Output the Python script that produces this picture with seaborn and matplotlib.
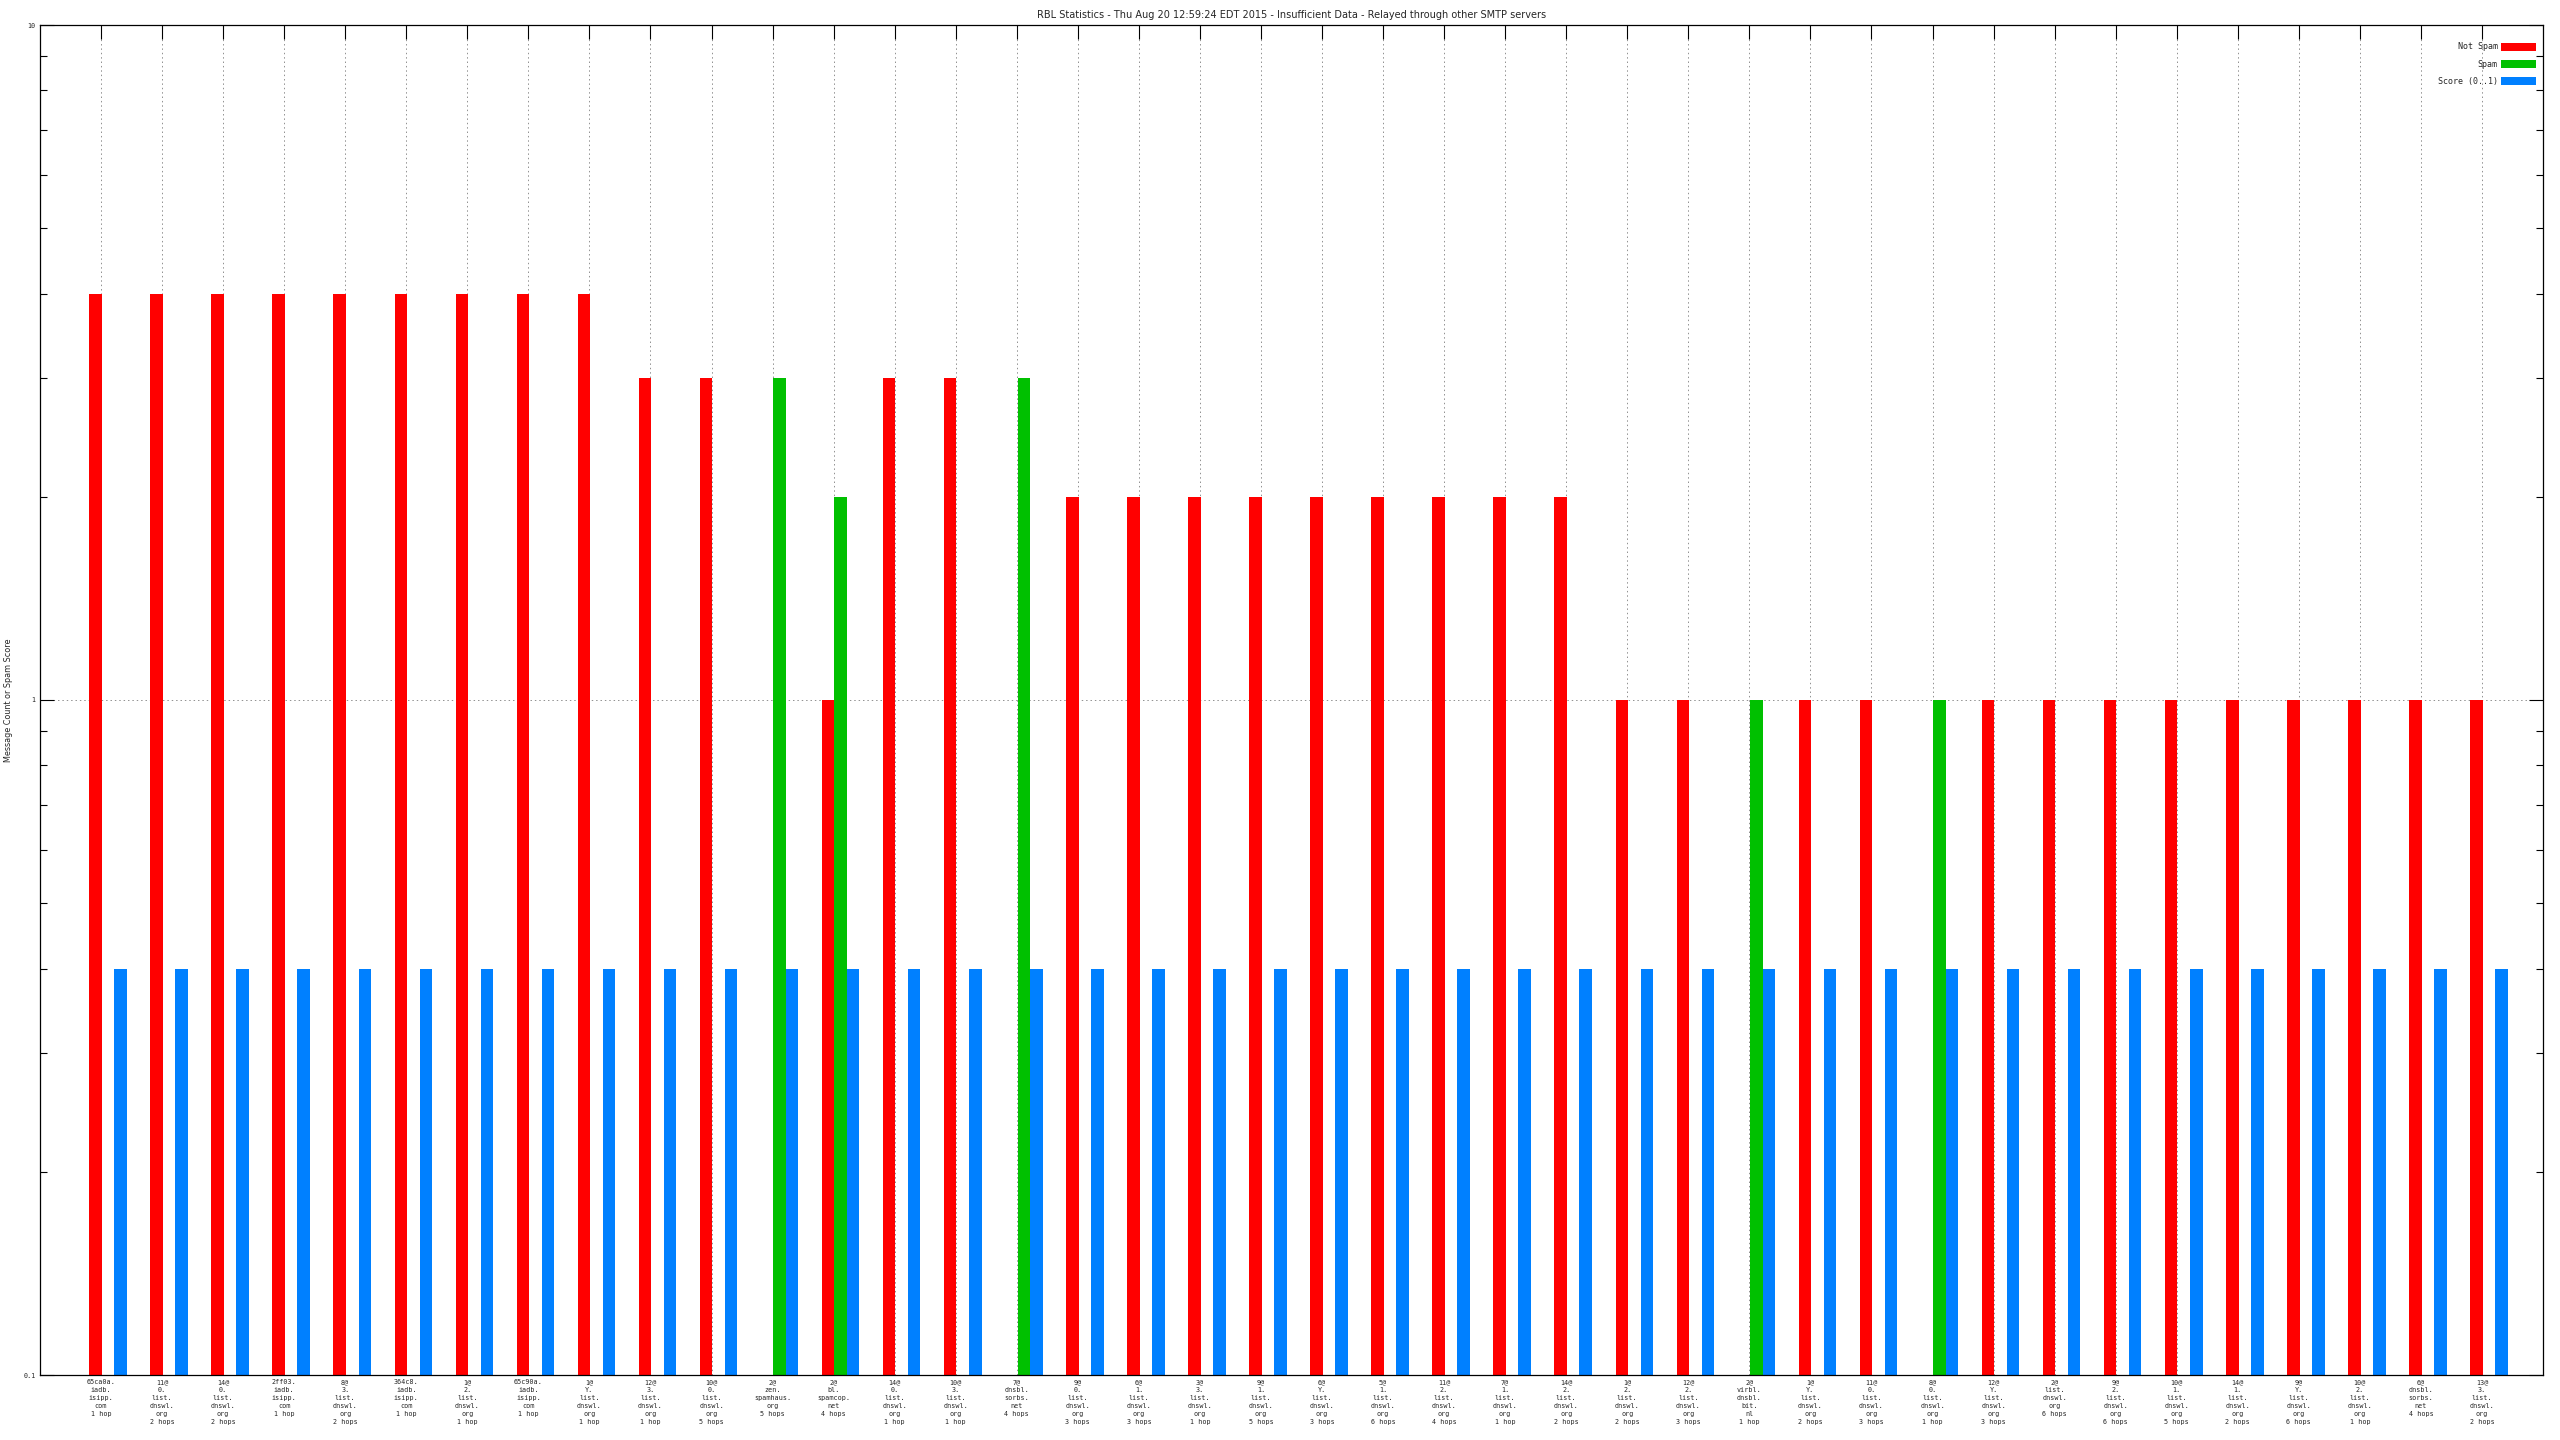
import pandas as pd
import matplotlib
matplotlib.use('Agg')
import matplotlib.pyplot as plt
import seaborn as sns
from matplotlib.ticker import FixedLocator, NullFormatter, LogLocator

# categorias (eje x)
labels = [
    "65ca0a.\niadb.\nisipp.\ncom\n1 hop",
    "11@\n0.\nlist.\ndnswl.\norg\n2 hops",
    "14@\n0.\nlist.\ndnswl.\norg\n2 hops",
    "2ff03.\niadb.\nisipp.\ncom\n1 hop",
    "8@\n3.\nlist.\ndnswl.\norg\n2 hops",
    "364c8.\niadb.\nisipp.\ncom\n1 hop",
    "1@\n2.\nlist.\ndnswl.\norg\n1 hop",
    "65c90a.\niadb.\nisipp.\ncom\n1 hop",
    "1@\nY.\nlist.\ndnswl.\norg\n1 hop",
    "12@\n3.\nlist.\ndnswl.\norg\n1 hop",
    "10@\n0.\nlist.\ndnswl.\norg\n5 hops",
    "2@\nzen.\nspamhaus.\norg\n5 hops",
    "2@\nbl.\nspamcop.\nnet\n4 hops",
    "14@\n0.\nlist.\ndnswl.\norg\n1 hop",
    "10@\n3.\nlist.\ndnswl.\norg\n1 hop",
    "7@\ndnsbl.\nsorbs.\nnet\n4 hops",
    "9@\n0.\nlist.\ndnswl.\norg\n3 hops",
    "6@\n1.\nlist.\ndnswl.\norg\n3 hops",
    "3@\n3.\nlist.\ndnswl.\norg\n1 hop",
    "9@\n1.\nlist.\ndnswl.\norg\n5 hops",
    "6@\nY.\nlist.\ndnswl.\norg\n3 hops",
    "5@\n1.\nlist.\ndnswl.\norg\n6 hops",
    "11@\n2.\nlist.\ndnswl.\norg\n4 hops",
    "7@\n1.\nlist.\ndnswl.\norg\n1 hop",
    "14@\n2.\nlist.\ndnswl.\norg\n2 hops",
    "1@\n2.\nlist.\ndnswl.\norg\n2 hops",
    "12@\n2.\nlist.\ndnswl.\norg\n3 hops",
    "2@\nvirbl.\ndnsbl.\nbit.\nnl\n1 hop",
    "1@\nY.\nlist.\ndnswl.\norg\n2 hops",
    "11@\n0.\nlist.\ndnswl.\norg\n3 hops",
    "8@\n0.\nlist.\ndnswl.\norg\n1 hop",
    "12@\nY.\nlist.\ndnswl.\norg\n3 hops",
    "2@\nlist.\ndnswl.\norg\n6 hops",
    "9@\n2.\nlist.\ndnswl.\norg\n6 hops",
    "10@\n1.\nlist.\ndnswl.\norg\n5 hops",
    "14@\n1.\nlist.\ndnswl.\norg\n2 hops",
    "9@\nY.\nlist.\ndnswl.\norg\n6 hops",
    "10@\n2.\nlist.\ndnswl.\norg\n1 hop",
    "6@\ndnsbl.\nsorbs.\nnet\n4 hops",
    "13@\n3.\nlist.\ndnswl.\norg\n2 hops",
]

not_spam = [4, 4, 4, 4, 4, 4, 4, 4, 4, 3, 3, None, 1, 3, 3, None, 2, 2, 2, 2,
            2, 2, 2, 2, 2, 1, 1, None, 1, 1, None, 1, 1, 1, 1, 1, 1, 1, 1, 1]
spam = [None, None, None, None, None, None, None, None, None, None, None, 3, 2, None, None, 3, None, None, None, None,
        None, None, None, None, None, None, None, 1, None, None, 1, None, None, None, None, None, None, None, None, None]
score = [0.4, 0.4, 0.4, 0.4, 0.4, 0.4, 0.4, 0.4, 0.4, 0.4, 0.4, 0.4, 0.4, 0.4, 0.4, 0.4, 0.4, 0.4, 0.4, 0.4,
         0.4, 0.4, 0.4, 0.4, 0.4, 0.4, 0.4, 0.4, 0.4, 0.4, 0.4, 0.4, 0.4, 0.4, 0.4, 0.4, 0.4, 0.4, 0.4, 0.4]

series_names = ["Not Spam", "Spam", "Score (0..1)"]
colors = ["#ff0000", "#00c000", "#0080ff"]

# tabla larga para seaborn
rows = []
for i in range(len(labels)):
    for name, vals in zip(series_names, [not_spam, spam, score]):
        if vals[i] is not None:
            rows.append({"pos": i + 0.115, "serie": name, "valor": vals[i]})
df = pd.DataFrame(rows)

sns.set_style("white")
plt.rcParams['font.family'] = ['DejaVu Sans Mono']
fs = 4.9

fig = plt.figure(figsize=(25.6, 14.4), dpi=100)
ax = fig.add_axes([40 / 2560, 65 / 1440, 2503 / 2560, 1350 / 1440])

sns.barplot(data=df, x="pos", y="valor", hue="serie", hue_order=series_names,
            palette=colors, native_scale=True, width=0.615, dodge=True,
            errorbar=None, saturation=1, ax=ax)
for p in ax.patches:
    p.set_linewidth(0)

ax.set_yscale('log')
ax.set_ylim(0.1, 10)
ax.set_xlim(-1, len(labels))

ax.yaxis.set_major_locator(FixedLocator([0.1, 1, 10]))
ax.set_yticklabels(["0.1", "1", "10"], fontsize=fs)
ax.yaxis.set_minor_locator(LogLocator(base=10, subs=[2, 3, 4, 5, 6, 7, 8, 9]))
ax.yaxis.set_minor_formatter(NullFormatter())

ax.set_xticks(range(len(labels)))
ax.set_xticklabels(labels, fontsize=fs, linespacing=1.38)

ax.tick_params(which='major', direction='in', length=10, width=0.8, color='black',
               left=True, bottom=False, top=True, right=True, pad=3)
ax.tick_params(axis='y', which='minor', direction='in', length=5, width=0.8, color='black',
               left=True, right=True)
ax.tick_params(axis='x', which='minor', bottom=False, top=False)

ax.grid(axis='x', which='major', ls=(0, (1.5, 3)), color='#909090', lw=0.7)
ax.grid(axis='y', which='major', ls=(0, (1.5, 3)), color='#909090', lw=0.7)
ax.set_axisbelow(True)

for s in ax.spines.values():
    s.set_visible(True)
    s.set_color('black')
    s.set_linewidth(0.9)

ax.set_xlabel('')
ax.set_ylabel('Message Count or Spam Score', fontsize=5.8, family='DejaVu Sans')
ax.yaxis.set_label_coords(-0.0108, 0.5)

ax.set_title('RBL Statistics - Thu Aug 20 12:59:24 EDT 2015 - Insufficient Data - Relayed through other SMTP servers',
             fontsize=7.0, family='DejaVu Sans', pad=5)

leg = ax.legend(loc='upper right', frameon=False, markerfirst=False, fontsize=6,
                handlelength=4.2, handleheight=1.1, labelspacing=1.0, handletextpad=0.4,
                bbox_to_anchor=(0.9985, 0.9896), borderaxespad=0)

plt.savefig('out.png', dpi=100)
